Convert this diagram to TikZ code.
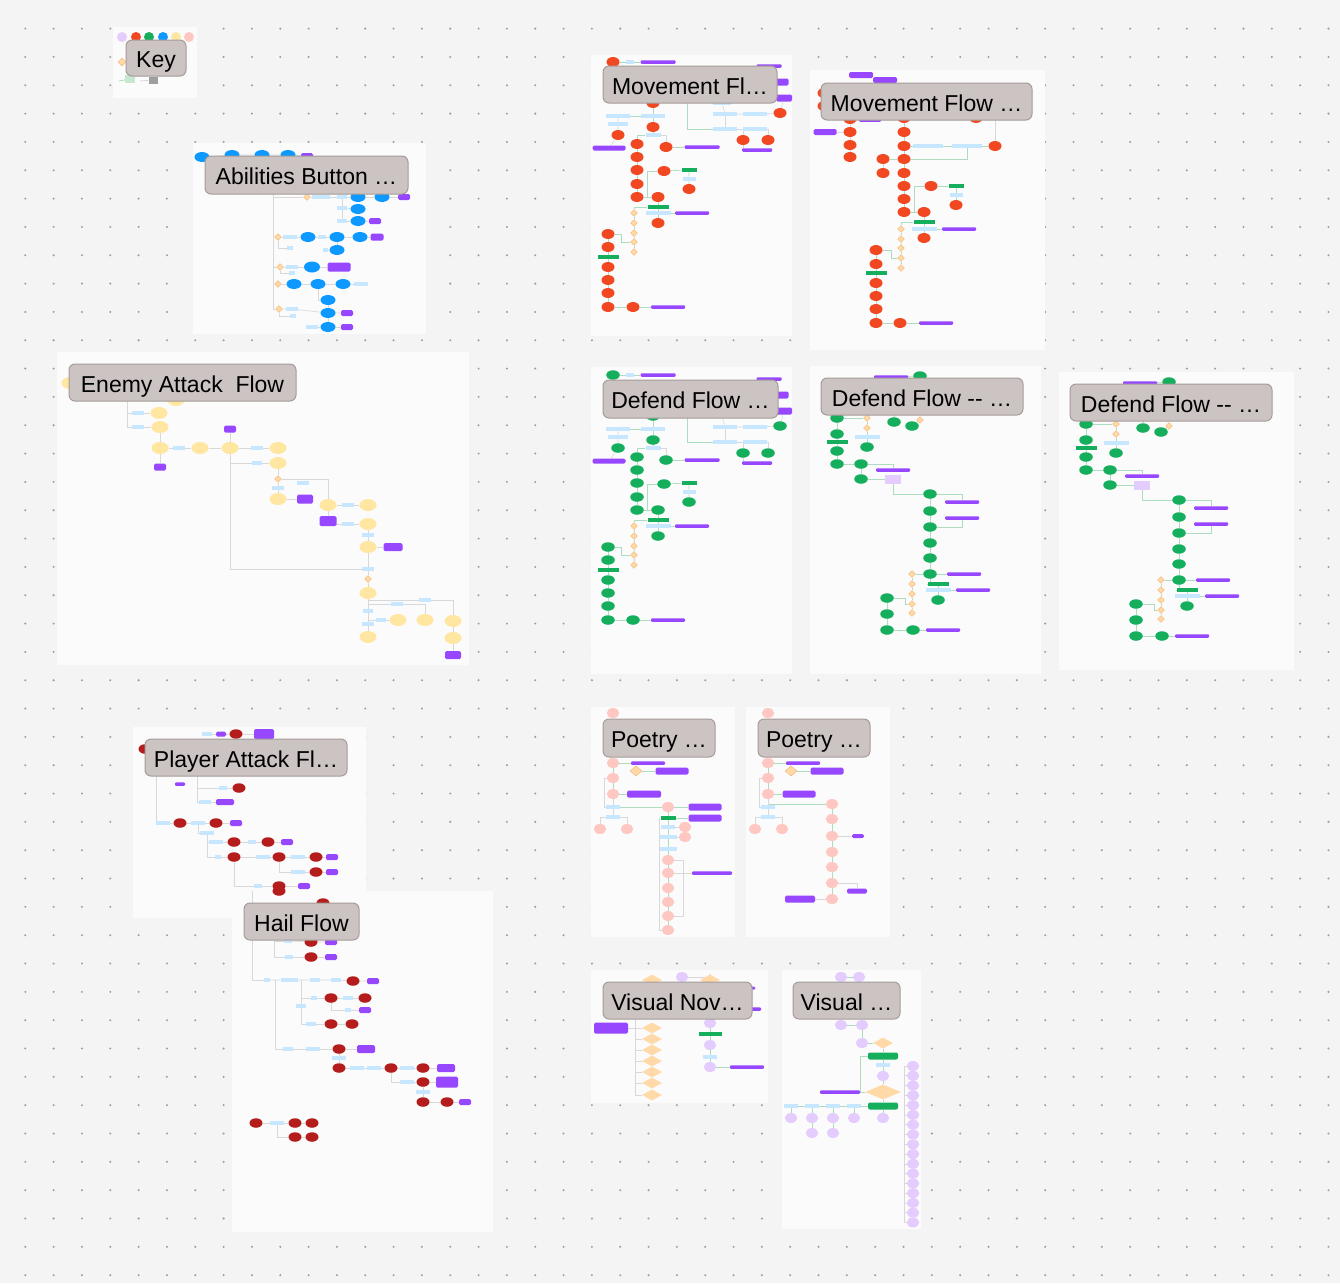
\documentclass[tikz,border=0pt]{standalone}
\usepackage{fontspec}
\newfontfamily\ttlfont{Liberation Sans}
\usetikzlibrary{shapes.geometric}
\definecolor{bg}{HTML}{F4F4F4}
\definecolor{dotc}{HTML}{A0A0A0}
\definecolor{framec}{HTML}{FBFBFB}
\definecolor{ttlfill}{HTML}{CCC4C2}
\definecolor{ttldraw}{HTML}{A59C9A}
\definecolor{mvred}{HTML}{F24822}
\definecolor{dfgreen}{HTML}{14AE5C}
\definecolor{abblue}{HTML}{0D99FF}
\definecolor{enyel}{HTML}{FFE7A1}
\definecolor{pared}{HTML}{B51D1D}
\definecolor{popink}{HTML}{FFC7C2}
\definecolor{vnlav}{HTML}{E4CCFF}
\definecolor{ppl}{HTML}{9747FF}
\definecolor{lblue}{HTML}{C7E6FF}
\definecolor{dmfill}{HTML}{FFD9A8}
\definecolor{dmdraw}{HTML}{F4B06A}
\definecolor{lngrey}{HTML}{D8D8D8}
\definecolor{lngreen}{HTML}{ADDDBF}

\pgfdeclarelayer{panels}
\pgfdeclarelayer{background}
\pgfsetlayers{panels,background,main}

\tikzset{
  el/.style={ellipse, inner sep=0, minimum width=13, minimum height=10},
  mv/.style={el, fill=mvred},
  df/.style={el, fill=dfgreen, minimum width=13.5, minimum height=9.5},
  ab/.style={el, fill=abblue, minimum width=15, minimum height=10},
  en/.style={el, fill=enyel, minimum width=17, minimum height=12},
  pa/.style={el, fill=pared, minimum width=13, minimum height=9.5},
  po/.style={el, fill=popink, minimum width=12.5, minimum height=10},
  vn/.style={el, fill=vnlav, minimum width=12.5, minimum height=10},
  lb/.style={rectangle, fill=lblue, inner sep=0, minimum height=4.5, minimum width=#1},
  lb/.default=14,
  ppbar/.style={rectangle, rounded corners=1, fill=ppl, inner sep=0, minimum height=3.5, minimum width=#1},
  ppbox/.style 2 args={rectangle, rounded corners=1.5, fill=ppl, inner sep=0, minimum width=#1, minimum height=#2},
  gb/.style={rectangle, fill=dfgreen, inner sep=0, minimum height=3.5, minimum width=#1},
  gbox/.style={rectangle, rounded corners=2, fill=dfgreen, inner sep=0, minimum height=7, minimum width=#1},
  dm/.style={diamond, fill=dmfill, draw=dmdraw, line width=0.4, inner sep=0, minimum width=7, minimum height=7},
  dmv/.style={diamond, fill=dmfill, inner sep=0, minimum width=20, minimum height=11},
  ln/.style={draw=lngrey, line width=0.6},
  lg/.style={draw=lngreen, line width=0.7},
  panel/.style={fill=framec},
  ttl/.style={rectangle, rounded corners=6, fill=ttlfill, draw=ttldraw, line width=1,
    inner sep=0, text height=19.5, text depth=0,
    font=\ttlfont\fontsize{23}{27}\selectfont, text=black}
}

% white board panel on the lowest layer
\newcommand\boardpanel[4]{%
  \begin{pgfonlayer}{panels}\fill[panel] (#1,#2) rectangle (#3,#4);\end{pgfonlayer}}

% Movement / first defend layout (absolute positions of the first panel)
\newcommand\flowMove[1]{%
  \node[#1] (n1) at (613,62) {};
  \node[lb=8] (n2) at (630,62) {};
  \node[ppbar=35] (n3) at (658,62) {};
  \node[ppbar=25] (n4) at (769,66) {};
  \node[ppbox={15}{7}] (n5) at (781,82) {};
  \node[ppbox={16}{7}] (n6) at (784,98) {};
  \node[#1] (n7) at (653,103) {};
  \node[lb=18] (n8) at (722,103) {};
  \node[lb=24] (n9) at (725,114) {};
  \node[lb=24] (n10) at (755,114) {};
  \node[#1] (n11) at (780,113) {};
  \node[lb=24] (n12) at (618,116) {};
  \node[lb=24] (n13) at (653,116) {};
  \node[lb=20] (n14) at (618,124) {};
  \node[#1] (n15) at (653,127) {};
  \node[lb=24] (n16) at (725,129) {};
  \node[lb=24] (n17) at (755,129) {};
  \node[#1] (n18) at (618,135) {};
  \node[lb=15] (n19) at (653,135) {};
  \node[#1] (n20) at (743,140) {};
  \node[#1] (n21) at (768,140) {};
  \node[ppbox={33}{5}] (n22) at (609,148) {};
  \node[#1] (n23) at (637,144) {};
  \node[#1] (n24) at (666,147) {};
  \node[ppbar=35] (n25) at (702,147) {};
  \node[ppbar=30] (n26) at (757,150) {};
  \node[#1] (n27) at (637,157) {};
  \node[#1] (n28) at (637,170) {};
  \node[#1] (n29) at (664,171) {};
  \node[gb=15] (n30) at (689,170) {};
  \node[lb=13] (n31) at (689,179) {};
  \node[#1] (n32) at (689,189) {};
  \node[#1] (n33) at (637,184) {};
  \node[#1] (n34) at (637,197) {};
  \node[#1] (n35) at (658,197) {};
  \node[gb=21] (n36) at (658,207) {};
  \node[lb=25] (n37) at (658,213) {};
  \node[ppbar=34] (n38) at (692,213) {};
  \node[#1] (n39) at (658,223) {};
  \node[dm] (n40) at (634,213) {};
  \node[dm] (n41) at (634,223) {};
  \node[dm] (n42) at (634,233) {};
  \node[dm] (n43) at (634,242) {};
  \node[dm] (n44) at (634,252) {};
  \node[#1] (n45) at (608,234) {};
  \node[#1] (n46) at (608,247) {};
  \node[gb=21] (n47) at (608,257) {};
  \node[#1] (n48) at (608,267) {};
  \node[#1] (n49) at (608,280) {};
  \node[#1] (n50) at (608,293) {};
  \node[#1] (n51) at (608,307) {};
  \node[#1] (n52) at (633,307) {};
  \node[ppbar=34] (n53) at (668,307) {};
  \begin{pgfonlayer}{background}
  \draw[lg] (n1)--(n2)--(n3);
  \draw[lg] (n7)--(n13)--(n15)--(n19);
  \draw[lg] (n13)--(n12);
  \draw[ln] (n12)--(n14)--(n18)--(n22);
  \draw[lg] (n19)-|(n23);
  \draw[ln] (n19)-|(n24);
  \draw[lg] (n24)--(n25);
  \draw[lg] (n23)--(n27)--(n28)--(n33)--(n34)--(n35);
  \draw[lg] (n34) -- ++(10,0) |- (n29);
  \draw[lg] (n29)--(n30)--(n31)--(n32);
  \draw[lg] (n35)--(n36)--(n37)--(n39);
  \draw[lg] (n37)--(n38);
  \draw[lg] (n40)--(n41)--(n42)--(n43)--(n44);
  \draw[lg] (n36) -| (n40);
  \draw[lg] (n45) -- ++(13,0) |- (n43);
  \draw[lg] (n45)--(n46)--(n47)--(n48)--(n49)--(n50)--(n51)--(n52)--(n53);
  \draw[ln] (n8)--(n9)--(n10)--(n11);
  \draw[ln] (n9)--(n16)--(n17);
  \draw[ln] (n17)-|(n20);
  \draw[ln] (n17)-|(n21);
  \draw[ln] (n20)|-(n26);
  \draw[ln] (n6)--(n11);
  \draw[lg] (n16) -- ++(-38,0) -- ++(0,-26);
  \end{pgfonlayer}
}

% Later defend layout (absolute positions of the second defend panel)
\newcommand\flowDefend[1]{%
  \node[ppbar=34] (k1) at (891,377) {};
  \node[#1] (k2) at (920,376) {};
  \node[#1] (k3) at (837,418) {};
  \node[dm] (k4) at (867,418) {};
  \node[dm] (k5) at (867,428) {};
  \node[#1] (k6) at (894,422) {};
  \node[#1] (k7) at (912,426) {};
  \node[dm] (k8) at (920,420) {};
  \node[#1] (k9) at (837,434) {};
  \node[gb=21] (k10) at (837,442) {};
  \node[lb=25] (k11) at (867,437) {};
  \node[#1] (k12) at (867,447) {};
  \node[#1] (k13) at (837,451) {};
  \node[#1] (k14) at (837,464) {};
  \node[#1] (k15) at (861,464) {};
  \node[ppbar=34] (k16) at (893,470) {};
  \node[#1] (k17) at (861,479) {};
  \node[rectangle, fill=vnlav, inner sep=0, minimum width=16, minimum height=9] (k18) at (893,479) {};
  \node[#1] (k19) at (930,494) {};
  \node[#1] (k20) at (930,511) {};
  \node[#1] (k21) at (930,527) {};
  \node[#1] (k22) at (930,543) {};
  \node[#1] (k23) at (930,558) {};
  \node[#1] (k24) at (930,574) {};
  \node[ppbar=34] (k25) at (962,502) {};
  \node[ppbar=34] (k26) at (962,518) {};
  \node[ppbar=34] (k27) at (964,574) {};
  \node[gb=21] (k28) at (938,584) {};
  \node[lb=25] (k29) at (938,590) {};
  \node[ppbar=34] (k30) at (973,590) {};
  \node[#1] (k31) at (938,600) {};
  \node[dm] (k32) at (912,574) {};
  \node[dm] (k33) at (912,584) {};
  \node[dm] (k34) at (912,594) {};
  \node[dm] (k35) at (912,604) {};
  \node[dm] (k36) at (912,613) {};
  \node[#1] (k37) at (887,598) {};
  \node[#1] (k38) at (887,614) {};
  \node[#1] (k39) at (887,630) {};
  \node[#1] (k40) at (913,630) {};
  \node[ppbar=34] (k41) at (943,630) {};
  \begin{pgfonlayer}{background}
  \draw[lg] (k1)--(k2);
  \draw[lg] (k3)--(k9)--(k10)--(k13)--(k14)--(k15);
  \draw[lg] (k3)--(k4)--(k5)--(k11)--(k12);
  \draw[lg] (k7)--(k8);
  \draw[lg] (k6) -- ++(0,-8);
  \draw[lg] (k15)-|(k16);
  \draw[lg] (k15)--(k17)--(k18);
  \draw[lg] (k18)|-(k19);
  \draw[lg] (k19)--(k20)--(k21)--(k22)--(k23)--(k24)--(k27);
  \draw[lg] (k19)-|(k25);
  \draw[lg] (k21)-|(k26);
  \draw[lg] (k24)|-(k28);
  \draw[lg] (k28)--(k29)--(k31);
  \draw[lg] (k29)--(k30);
  \draw[lg] (k24)--(k32)--(k33)--(k34)--(k35)--(k36);
  \draw[lg] (k37) -- ++(18,0) |- (k35);
  \draw[lg] (k37)--(k38)--(k39)--(k40)--(k41);
  \end{pgfonlayer}
}

\begin{document}
\begin{tikzpicture}[x=1pt,y=-1pt]
\useasboundingbox (0,0) rectangle (1340,1283);
\begin{pgfonlayer}{panels}
\fill[bg] (0,0) rectangle (1340,1283);
% dot grid of the board
\foreach \i in {0,...,46}
  \foreach \j in {1,...,45}
    \fill[dotc] ({25.3+28.33*\i},{0.3+28.33*\j}) circle (1.15);
\end{pgfonlayer}

% ---------------- Key ----------------
\boardpanel{113}{27}{197}{98}
\node[circle, fill=vnlav, inner sep=0, minimum size=10] (kc1) at (122,37) {};
\node[circle, fill=mvred, inner sep=0, minimum size=10] (kc2) at (136,37) {};
\node[circle, fill=dfgreen, inner sep=0, minimum size=10] (kc3) at (149,37) {};
\node[circle, fill=abblue, inner sep=0, minimum size=10] (kc4) at (163,37) {};
\node[circle, fill=enyel, inner sep=0, minimum size=10] (kc5) at (176,37) {};
\node[circle, fill=popink, inner sep=0, minimum size=10] (kc6) at (189,37) {};
\node[dm, minimum width=8, minimum height=8] (kd) at (122,62) {};
\coordinate (ka0) at (119,81);
\node[rectangle, fill=lngreen!70, inner sep=0, minimum width=10, minimum height=8] (kg) at (130,79) {};
\coordinate (kb0) at (140,81);
\node[rectangle, fill=black!38, inner sep=0, minimum width=9, minimum height=7] (kr) at (153,80) {};
\draw[lg, line width=0.8] (ka0) -- (kg);
\draw[ln, line width=0.8] (kb0) -- (kr);

% ---------------- Abilities Button ----------------
\boardpanel{193}{143}{426}{334}
\node[ab] (a1) at (202,157) {};
\node[ab] (a2) at (232,155) {};
\node[ab] (a3) at (262,155) {};
\node[ab] (a4) at (288,155) {};
\node[ppbox={12}{6}] (a5) at (307,156) {};
\node[dm] (a6) at (307,197) {};
\node[lb=18] (a7) at (321,197) {};
\node[lb=10] (a8) at (342,197) {};
\node[ab] (a9) at (358,197) {};
\node[ab] (a10) at (382,197) {};
\node[ppbox={12}{6}] (a11) at (404,197) {};
\node[lb=10] (a12) at (342,208) {};
\node[ab] (a13) at (358,209) {};
\node[lb=10] (a14) at (342,221) {};
\node[ab] (a15) at (358,221) {};
\node[ppbox={12}{6}] (a16) at (375,221) {};
\node[dm] (a17) at (278,237) {};
\node[lb=14] (a18) at (290,237) {};
\node[ab] (a19) at (308,237) {};
\node[lb=8] (a20) at (322,237) {};
\node[ab] (a21) at (337,237) {};
\node[ab] (a22) at (360,237) {};
\node[ppbox={13}{7}] (a23) at (377,237) {};
\node[lb=6] (a24) at (290,248) {};
\node[lb=5] (a25) at (325,250) {};
\node[ab] (a26) at (337,250) {};
\node[dm] (a27) at (280,267) {};
\node[lb=12] (a28) at (292,267) {};
\node[ab, minimum width=16, minimum height=11] (a29) at (312,267) {};
\node[ppbox={23}{9}] (a30) at (339,267) {};
\node[lb=6] (a31) at (292,273) {};
\node[dm] (a32) at (278,284) {};
\node[ab] (a33) at (294,284) {};
\node[ab] (a34) at (318,284) {};
\node[ab] (a35) at (343,284) {};
\node[lb=14] (a36) at (361,284) {};
\node[ab] (a37) at (328,300) {};
\node[dm] (a38) at (279,309) {};
\node[lb=12] (a39) at (292,309) {};
\node[ab] (a40) at (328,313) {};
\node[ppbox={12}{6}] (a41) at (347,313) {};
\node[lb=6] (a42) at (293,316) {};
\node[lb=12] (a43) at (312,327) {};
\node[ab] (a44) at (328,327) {};
\node[ppbox={12}{6}] (a45) at (347,327) {};
\coordinate (atop) at (273,188);
\begin{pgfonlayer}{background}
\draw[ln] (a6)--(a7)--(a8)--(a9)--(a10)--(a11);
\draw[ln] (a8)--(a12)--(a14);
\draw[ln] (a12)--(a13);
\draw[ln] (a14)--(a15)--(a16);
\draw[ln] (a17)--(a18)--(a19)--(a20)--(a21)--(a22)--(a23);
\draw[ln] (a21)--(a26);
\draw[ln] (a25)--(a26);
\draw[ln] (a17)|-(a24);
\draw[ln] (a27)--(a28)--(a29)--(a30);
\draw[ln] (a27)|-(a31);
\draw[ln] (a32)--(a33)--(a34)--(a35)--(a36);
\draw[ln] (a34)|-(a37);
\draw[ln] (a37)--(a40)--(a44);
\draw[ln] (a38)--(a39)--(a40)--(a41);
\draw[ln] (a38)|-(a42);
\draw[ln] (a43)--(a44)--(a45);
\draw[ln] (atop)|-(a6);
\draw[ln] (atop)|-(a17);
\draw[ln] (atop)|-(a27);
\draw[ln] (atop)|-(a32);
\draw[ln] (atop)|-(a38);
\draw[ln] (a1)--(a2)--(a3)--(a4)--(a5);
\end{pgfonlayer}

% ---------------- Enemy Attack Flow ----------------
\boardpanel{57}{352}{469}{665}
\coordinate (etop) at (127,398);
\node[en] (e1) at (70,383) {};
\node[en] (e2) at (176,400) {};
\node[lb=12] (e3) at (138,413) {};
\node[en] (e4) at (159,413) {};
\node[lb=12] (e5) at (138,427) {};
\node[en] (e6) at (160,427) {};
\node[ppbox={12}{7}] (e7) at (230,429) {};
\node[en] (e8) at (160,448) {};
\node[lb=12] (e9) at (179,448) {};
\node[en] (e10) at (200,448) {};
\node[en] (e11) at (230,448) {};
\node[lb=12] (e12) at (257,448) {};
\node[en] (e13) at (278,448) {};
\node[ppbox={12}{7}] (e14) at (160,467) {};
\node[lb=10] (e15) at (257,463) {};
\node[en] (e16) at (278,463) {};
\node[dm] (e17) at (278,479) {};
\node[lb=12] (e18) at (303,483) {};
\node[lb=12] (e19) at (278,488) {};
\node[en] (e20) at (278,499) {};
\node[ppbox={16}{9}] (e21) at (305,499) {};
\node[en] (e22) at (328,505) {};
\node[lb=12] (e23) at (348,505) {};
\node[en] (e24) at (368,505) {};
\node[ppbox={17}{10}] (e25) at (328,521) {};
\node[lb=12] (e26) at (348,524) {};
\node[en] (e27) at (368,524) {};
\node[lb=12] (e28) at (368,535) {};
\node[en] (e29) at (368,547) {};
\node[ppbox={19}{8}] (e30) at (393,547) {};
\node[lb=12] (e31) at (368,569) {};
\node[dm] (e32) at (368,579) {};
\node[en] (e33) at (368,593) {};
\node[lb=12] (e34) at (425,600) {};
\node[lb=12] (e35) at (397,604) {};
\node[lb=10] (e36) at (368,611) {};
\node[lb=10] (e37) at (381,620) {};
\node[en] (e38) at (398,620) {};
\node[en] (e39) at (425,620) {};
\node[en] (e40) at (453,621) {};
\node[lb=12] (e41) at (368,624) {};
\node[en] (e42) at (368,637) {};
\node[en] (e43) at (453,638) {};
\node[ppbox={16}{8}] (e44) at (453,655) {};
\begin{pgfonlayer}{background}
\draw[ln] (etop)|-(e3);
\draw[ln] (etop)|-(e5);
\draw[ln] (e3)--(e4);
\draw[ln] (e5)--(e6)--(e8)--(e9)--(e10)--(e11)--(e12)--(e13);
\draw[ln] (e8)--(e14);
\draw[ln] (e7)--(e11);
\draw[ln] (e15)-|(e11);
\draw[ln] (e15)--(e16)--(e17)--(e19)--(e20)--(e21);
\draw[ln] (e17)-|(e22);
\draw[ln] (e22)--(e23)--(e24);
\draw[ln] (e22)--(e25);
\draw[ln] (e26)-|(e22);
\draw[ln] (e26)--(e27)--(e28)--(e29)--(e30);
\draw[ln] (e29)--(e31)--(e32)--(e33)--(e36)--(e41)--(e42);
\draw[ln] (e11)|-(e31);
\draw[ln] (e33)|-(e34);
\draw[ln] (e34)-|(e40);
\draw[ln] (e33)|-(e35);
\draw[ln] (e35)-|(e39);
\draw[ln] (e36)|-(e37);
\draw[ln] (e37)--(e38);
\draw[ln] (e40)--(e43)--(e44);
\end{pgfonlayer}

% ---------------- Movement flow panels ----------------
\boardpanel{591}{55}{792}{336}
\begin{scope}[name prefix=m1-]
  \flowMove{mv}
\end{scope}

\boardpanel{810}{70}{1045}{350}
\node[ppbox={24}{6}] (b1) at (861,75) {};
\node[ppbox={24}{6}] (b2) at (885,80) {};
\node[mv] (b3) at (824,93) {};
\node[mv] (b4) at (824,106) {};
\node[mv] (b5) at (850,119) {};
\node[ppbar=22] (b6) at (870,120) {};
\node[mv] (b7) at (904,118) {};
\node[mv] (b8) at (976,118) {};
\node[ppbox={23}{6}] (b9) at (825,132) {};
\node[mv] (b10) at (850,132) {};
\node[mv] (b11) at (850,145) {};
\node[mv] (b12) at (850,157) {};
\node[mv] (b13) at (904,132) {};
\node[mv] (b14) at (904,146) {};
\node[lb=30] (b15) at (928,146) {};
\node[lb=30] (b16) at (967,146) {};
\node[mv] (b17) at (995,146) {};
\node[mv] (b18) at (883,159) {};
\node[mv] (b19) at (904,159) {};
\node[mv] (b20) at (883,173) {};
\node[mv] (b21) at (904,173) {};
\node[mv] (b22) at (904,186) {};
\node[mv] (b23) at (904,199) {};
\node[mv] (b24) at (904,212) {};
\node[mv] (b25) at (931,186) {};
\node[gb=15] (b26) at (956,186) {};
\node[lb=13] (b27) at (956,195) {};
\node[mv] (b28) at (956,205) {};
\node[mv] (b29) at (924,212) {};
\node[gb=21] (b30) at (924,222) {};
\node[lb=25] (b31) at (924,229) {};
\node[ppbar=34] (b32) at (959,229) {};
\node[mv] (b33) at (924,238) {};
\node[dm] (b34) at (901,229) {};
\node[dm] (b35) at (901,239) {};
\node[dm] (b36) at (901,248) {};
\node[dm] (b37) at (901,258) {};
\node[dm] (b38) at (901,268) {};
\node[mv] (b39) at (876,250) {};
\node[mv] (b40) at (876,264) {};
\node[gb=21] (b41) at (876,273) {};
\node[mv] (b42) at (876,283) {};
\node[mv] (b43) at (876,296) {};
\node[mv] (b44) at (876,309) {};
\node[mv] (b45) at (876,323) {};
\node[mv] (b46) at (900,323) {};
\node[ppbar=34] (b47) at (936,323) {};
\begin{pgfonlayer}{background}
\draw[ln] (b1)--(b2);
\draw[ln] (b3)--(b4);
\draw[ln] (b5)--(b10)--(b11)--(b12);
\draw[ln] (b9)--(b10);
\draw[lg] (b7)--(b13)--(b14)--(b19)--(b21)--(b22)--(b23)--(b24)--(b29);
\draw[lg] (b14)--(b15)--(b16)--(b17);
\draw[ln] (b8)-|(b17);
\draw[lg] (b19)--(b18);
\draw[lg] (b16)|-(b19);
\draw[ln] (b18)--(b20);
\draw[lg] (b24) -- ++(10,0) |- (b25);
\draw[lg] (b25)--(b26)--(b27)--(b28);
\draw[lg] (b29)--(b30)--(b31)--(b33);
\draw[lg] (b31)--(b32);
\draw[lg] (b34)--(b35)--(b36)--(b37)--(b38);
\draw[lg] (b30)-|(b34);
\draw[lg] (b39) -- ++(15,0) |- (b37);
\draw[lg] (b39)--(b40)--(b41)--(b42)--(b43)--(b44)--(b45)--(b46)--(b47);
\end{pgfonlayer}

% ---------------- Defend flow panels ----------------
\boardpanel{591}{367}{792}{674}
\begin{scope}[name prefix=d1-, shift={(0,313)}]
  \flowMove{df}
\end{scope}

\boardpanel{810}{366}{1041}{674}
\begin{scope}[name prefix=d2-]
  \flowDefend{df}
\end{scope}

\boardpanel{1059}{372}{1294}{670}
\begin{scope}[name prefix=d3-, shift={(249,6)}]
  \flowDefend{df}
\end{scope}

% ---------------- Player Attack Flow ----------------
\boardpanel{133}{727}{366}{918}
\node[lb=10] (p1) at (207,734) {};
\node[ppbox={10}{5}] (p2) at (221,734) {};
\node[pa] (p3) at (236,734) {};
\node[ppbox={20}{10}] (p4) at (264,734) {};
\node[pa] (p5) at (145,749) {};
\node[ppbar=10] (p6) at (180,784) {};
\node[lb=8] (p7) at (223,788) {};
\node[pa] (p8) at (239,788) {};
\node[lb=12] (p9) at (205,802) {};
\node[ppbox={18}{6}] (p10) at (225,802) {};
\node[lb=14] (p11) at (163,823) {};
\node[pa] (p12) at (180,823) {};
\node[lb=14] (p13) at (198,823) {};
\node[pa] (p14) at (216,823) {};
\node[ppbox={12}{6}] (p15) at (236,823) {};
\node[lb=14] (p16) at (207,833) {};
\node[lb=14] (p17) at (216,842) {};
\node[pa] (p18) at (234,842) {};
\node[lb=8] (p19) at (252,842) {};
\node[pa] (p20) at (268,842) {};
\node[ppbox={12}{6}] (p21) at (287,842) {};
\node[lb=6] (p22) at (218,857) {};
\node[pa] (p23) at (234,857) {};
\node[lb=14] (p24) at (263,857) {};
\node[pa] (p25) at (279,857) {};
\node[lb=14] (p26) at (298,857) {};
\node[pa] (p27) at (316,857) {};
\node[ppbox={12}{6}] (p28) at (332,857) {};
\node[lb=14] (p29) at (298,872) {};
\node[pa] (p30) at (316,872) {};
\node[ppbox={12}{6}] (p31) at (332,872) {};
\node[lb=8] (p32) at (258,886) {};
\node[pa] (p33) at (279,886) {};
\node[ppbox={12}{6}] (p34) at (304,886) {};
\coordinate (pv) at (156,752);
\coordinate (pv2) at (197,745);
\begin{pgfonlayer}{background}
\draw[ln] (p1)--(p2)--(p3)--(p4);
\draw[ln] (pv)|-(p11);
\draw[ln] (p5)--(pv);
\draw[ln] (pv2)|-(p9);
\draw[ln] (pv2)|-(p7);
\draw[ln] (p7)--(p8);
\draw[ln] (p9)--(p10);
\draw[ln] (p11)--(p12)--(p13)--(p14)--(p15);
\draw[ln] (p13)|-(p16);
\draw[ln] (p16)|-(p17);
\draw[ln] (p16)|-(p22);
\draw[ln] (p17)--(p18)--(p19)--(p20)--(p21);
\draw[ln] (p22)--(p23)--(p24)--(p25)--(p26)--(p27)--(p28);
\draw[ln] (p25)|-(p29);
\draw[ln] (p29)--(p30)--(p31);
\draw[ln] (p23)|-(p32);
\draw[ln] (p32)--(p33)--(p34);
\end{pgfonlayer}

% ---------------- Hail Flow ----------------
\boardpanel{232}{891}{493}{1232}
\node[pa] (h1) at (279,891) {};
\node[pa] (h2) at (323,903) {};
\node[lb=8] (h3) at (288,941) {};
\node[pa] (h4) at (311,942) {};
\node[ppbox={12}{6}] (h5) at (331,942) {};
\node[lb=8] (h6) at (289,957) {};
\node[pa] (h7) at (311,957) {};
\node[ppbox={12}{6}] (h8) at (331,957) {};
\node[lb=6] (h9) at (267,980) {};
\node[lb=17] (h10) at (289,980) {};
\node[lb=10] (h11) at (315,980) {};
\node[lb=10] (h12) at (336,980) {};
\node[pa] (h13) at (353,981) {};
\node[ppbox={12}{6}] (h14) at (373,981) {};
\node[lb=6] (h15) at (314,998) {};
\node[pa] (h16) at (331,998) {};
\node[lb=10] (h17) at (348,998) {};
\node[pa] (h18) at (365,998) {};
\node[lb=10] (h19) at (301,1006) {};
\node[lb=6] (h20) at (348,1010) {};
\node[ppbox={12}{6}] (h21) at (365,1010) {};
\node[lb=10] (h22) at (311,1024) {};
\node[pa] (h23) at (331,1024) {};
\node[pa] (h24) at (352,1024) {};
\node[lb=10] (h25) at (288,1049) {};
\node[lb=14] (h26) at (313,1049) {};
\node[pa] (h27) at (339,1049) {};
\node[ppbox={18}{8}] (h28) at (366,1049) {};
\node[lb=14] (h29) at (339,1058) {};
\node[pa] (h30) at (339,1068) {};
\node[lb=14] (h31) at (357,1068) {};
\node[lb=14] (h32) at (374,1068) {};
\node[pa] (h33) at (391,1068) {};
\node[lb=14] (h34) at (407,1068) {};
\node[pa] (h35) at (423,1068) {};
\node[ppbox={18}{8}] (h36) at (446,1068) {};
\node[lb=14] (h37) at (407,1082) {};
\node[pa] (h38) at (423,1082) {};
\node[ppbox={22}{11}] (h39) at (447,1082) {};
\node[lb=14] (h40) at (423,1092) {};
\node[pa] (h41) at (423,1102) {};
\node[pa] (h42) at (447,1102) {};
\node[ppbox={12}{6}] (h43) at (465,1102) {};
\node[pa] (h44) at (256,1123) {};
\node[lb=14] (h45) at (277,1123) {};
\node[pa] (h46) at (295,1123) {};
\node[pa] (h47) at (312,1123) {};
\node[pa] (h48) at (295,1137) {};
\node[pa] (h49) at (312,1137) {};
\coordinate (hv) at (252,891);
\coordinate (hl) at (274,925);
\coordinate (hj) at (275,980);
\coordinate (hk) at (301,980);
\begin{pgfonlayer}{background}
\draw[ln] (hv)|-(h9);
\draw[ln] (h9)--(h10)--(h11)--(h12)--(h13)--(h14);
\draw[ln] (hl)|-(h3);
\draw[ln] (hl)|-(h6);
\draw[ln] (h3)--(h4)--(h5);
\draw[ln] (h6)--(h7)--(h8);
\draw[ln] (hj)|-(h25);
\draw[ln] (hk)|-(h15);
\draw[ln] (hk)|-(h22);
\draw[ln] (h15)--(h16)--(h17)--(h18);
\draw[ln] (h16)|-(h20);
\draw[ln] (h20)--(h21);
\draw[ln] (h22)--(h23)--(h24);
\draw[ln] (h25)--(h26)--(h27)--(h28);
\draw[ln] (h27)--(h29)--(h30)--(h31)--(h32)--(h33)--(h34)--(h35)--(h36);
\draw[ln] (h33)|-(h37);
\draw[ln] (h37)--(h38)--(h39);
\draw[ln] (h38)--(h40)--(h41)--(h42)--(h43);
\draw[ln] (h44)--(h45)--(h46)--(h47);
\draw[ln] (h45)|-(h48);
\draw[ln] (h48)--(h49);
\end{pgfonlayer}

% ---------------- Poetry panels ----------------
\boardpanel{591}{707}{735}{937}
\node[po] (q1) at (613,713) {};
\node[po] (q2) at (613,763) {};
\node[ppbar=34] (q3) at (648,763) {};
\node[dm, minimum width=12, minimum height=10] (q4) at (636,771) {};
\node[ppbox={33}{7}] (q5) at (672,771) {};
\node[po] (q6) at (613,778) {};
\node[po] (q7) at (613,794) {};
\node[ppbox={34}{7}] (q8) at (644,794) {};
\node[lb=14] (q9) at (613,807) {};
\node[lb=14] (q10) at (613,817) {};
\node[po] (q11) at (600,829) {};
\node[po] (q12) at (627,829) {};
\node[po] (q13) at (668,807) {};
\node[ppbox={33}{7}] (q14) at (705,807) {};
\node[gb=15] (q15) at (668,818) {};
\node[ppbox={33}{7}] (q16) at (705,818) {};
\node[lb=14] (q17) at (668,827) {};
\node[po] (q18) at (685,827) {};
\node[lb=17] (q19) at (668,837) {};
\node[po] (q20) at (685,837) {};
\node[lb=17] (q21) at (668,849) {};
\node[po] (q22) at (668,860) {};
\node[po] (q23) at (668,873) {};
\node[po] (q24) at (668,888) {};
\node[po] (q25) at (668,902) {};
\node[po] (q26) at (668,916) {};
\node[po] (q27) at (668,930) {};
\node[ppbar=40] (q28) at (712,873) {};
\begin{pgfonlayer}{background}
\draw[lg] (q2)--(q3);
\draw[lg] (q2)--(q6)--(q7)--(q8);
\draw[lg] (q4)--(q5);
\draw[lg] (q7)|-(q13);
\draw[ln] (q7)--(q9)--(q10);
\draw[ln] (q10)-|(q11);
\draw[ln] (q10)-|(q12);
\draw[ln] (q6) -- ++(-9,0) |- (q9);
\draw[lg] (q13)--(q14);
\draw[lg] (q13)--(q15)--(q17)--(q19)--(q21)--(q22)--(q23)--(q24)--(q25)--(q26)--(q27);
\draw[lg] (q15)--(q16);
\draw[ln] (q17)--(q18);
\draw[ln] (q19)--(q20);
\draw[ln] (q23)--(q28);
\draw[ln] (q22) -- ++(15,0) |- (q26);
\draw[ln] (q15) -- ++(-9,0) |- (q27);
\end{pgfonlayer}

\boardpanel{746}{707}{890}{937}
\node[po] (r1) at (768,713) {};
\node[po] (r2) at (768,763) {};
\node[ppbar=34] (r3) at (803,763) {};
\node[dm, minimum width=12, minimum height=10] (r4) at (791,771) {};
\node[ppbox={33}{7}] (r5) at (827,771) {};
\node[po] (r6) at (768,778) {};
\node[po] (r7) at (768,794) {};
\node[ppbox={33}{7}] (r8) at (799,794) {};
\node[lb=14] (r9) at (768,807) {};
\node[lb=14] (r10) at (768,817) {};
\node[po] (r11) at (755,829) {};
\node[po] (r12) at (782,829) {};
\node[po] (r13) at (832,804) {};
\node[po] (r14) at (832,819) {};
\node[po] (r15) at (832,836) {};
\node[po] (r16) at (832,852) {};
\node[po] (r17) at (832,867) {};
\node[po] (r18) at (832,883) {};
\node[po] (r19) at (832,899) {};
\node[ppbox={12}{4}] (r20) at (858,836) {};
\node[ppbox={20}{5}] (r21) at (857,891) {};
\node[ppbox={30}{7}] (r22) at (800,899) {};
\begin{pgfonlayer}{background}
\draw[lg] (r2)--(r3);
\draw[lg] (r2)--(r6)--(r7)--(r8);
\draw[lg] (r4)--(r5);
\draw[lg] (r7)|-(r13);
\draw[ln] (r7)--(r9)--(r10);
\draw[ln] (r10)-|(r11);
\draw[ln] (r10)-|(r12);
\draw[ln] (r6) -- ++(-9,0) |- (r9);
\draw[lg] (r13)--(r14)--(r15)--(r16)--(r17)--(r18)--(r19);
\draw[ln] (r15)--(r20);
\draw[ln] (r18)-|(r21);
\draw[ln] (r19)--(r22);
\end{pgfonlayer}

% ---------------- Visual novel panels ----------------
\boardpanel{591}{970}{768}{1103}
\node[dmv] (v1) at (652,980) {};
\node[dmv] (v2) at (710,980) {};
\node[vn] (v3) at (682,977) {};
\node[dmv] (v4) at (652,1028) {};
\node[dmv] (v5) at (652,1039) {};
\node[dmv] (v6) at (652,1050) {};
\node[dmv] (v7) at (652,1061) {};
\node[dmv] (v8) at (652,1072) {};
\node[dmv] (v9) at (652,1083) {};
\node[dmv] (v10) at (652,1095) {};
\node[ppbox={34}{11}] (v11) at (611,1028) {};
\node[ppbox={7}{3}] (v12) at (752,988) {};
\node[ppbar=12] (v13) at (755,1009) {};
\node[vn] (v14) at (710,1023) {};
\node[gb=23] (v15) at (710,1034) {};
\node[vn] (v16) at (710,1045) {};
\node[lb=14] (v17) at (710,1057) {};
\node[vn] (v18) at (710,1067) {};
\node[ppbar=34] (v19) at (747,1067) {};
\coordinate (vv) at (635,1012);
\begin{pgfonlayer}{background}
\draw[ln] (v3)-|(v2);
\draw[ln] (v11)--(v4);
\foreach \d in {4,...,10} \draw[ln] (vv)|-(v\d);
\draw[lg] (v14)--(v15)--(v16)--(v17)--(v18)--(v19);
\end{pgfonlayer}

\boardpanel{782}{970}{921}{1229}
\node[vn] (w1) at (841,977) {};
\node[vn] (w2) at (859,977) {};
\node[vn] (w3) at (841,1025) {};
\node[vn] (w4) at (862,1025) {};
\node[vn] (w5) at (862,1043) {};
\node[dmv] (w6) at (883,1043) {};
\node[gbox=30] (w7) at (883,1056) {};
\node[lb=14] (w8) at (883,1065) {};
\node[vn] (w9) at (883,1076) {};
\node[dmv, minimum width=36, minimum height=15] (w10) at (883,1092) {};
\node[ppbar=40] (w11) at (840,1092) {};
\node[gbox=30] (w12) at (883,1106) {};
\node[vn] (w13) at (883,1118) {};
\node[lb=14] (w14) at (791,1106) {};
\node[lb=14] (w15) at (812,1106) {};
\node[lb=14] (w16) at (833,1106) {};
\node[lb=14] (w17) at (854,1106) {};
\node[vn] (w18) at (791,1118) {};
\node[vn] (w19) at (812,1118) {};
\node[vn] (w20) at (833,1118) {};
\node[vn] (w21) at (854,1118) {};
\node[vn] (w22) at (812,1133) {};
\node[vn] (w23) at (833,1133) {};
\foreach \k in {0,...,16}
  \node[vn] (wc\k) at (913,{1066+9.78*\k}) {};
\begin{pgfonlayer}{background}
\draw[lg] (w1)--(w2);
\draw[lg] (w3)--(w4)--(w5)--(w6)--(w7)--(w8)--(w9)--(w10)--(w12)--(w13);
\draw[lg] (w10)--(w11);
\draw[lg] (w7.west)-|(w11.east);
\draw[lg] (w12)--(w17)--(w16)--(w15)--(w14);
\draw[lg] (w14)--(w18);
\draw[lg] (w15)--(w19)--(w22);
\draw[lg] (w16)--(w20)--(w23);
\draw[lg] (w17)--(w21);
\draw[ln] (wc0) -- ++(-9,0) |- (wc16);
\foreach \k in {1,...,15} \draw[ln] (wc\k) -- ++(-9,0);
\end{pgfonlayer}

% ---------------- Panel titles ----------------
\node[ttl, minimum width=60, minimum height=36] (t1) at (156,58) {Key};
\node[ttl, minimum width=203, minimum height=38] (t2) at (306.5,175) {Abilities Button …};
\node[ttl, minimum width=227, minimum height=37] (t3) at (182.5,382.5) {Enemy Attack\ \ Flow};
\node[ttl, minimum width=174, minimum height=37] (t4) at (690,84.5) {Movement Fl…};
\node[ttl, minimum width=211, minimum height=37] (t5) at (926.5,101.5) {Movement Flow …};
\node[ttl, minimum width=175, minimum height=38] (t6) at (690.5,399) {Defend Flow …};
\node[ttl, minimum width=202, minimum height=37] (t7) at (922,396.5) {Defend Flow -{}- …};
\node[ttl, minimum width=202, minimum height=37] (t8) at (1171,402.5) {Defend Flow -{}- …};
\node[ttl, minimum width=202, minimum height=37] (t9) at (246,757.5) {Player Attack Fl…};
\node[ttl, minimum width=115, minimum height=37] (t10) at (301.5,921.5) {Hail Flow};
\node[ttl, minimum width=112, minimum height=38] (t11) at (659,738) {Poetry …};
\node[ttl, minimum width=112, minimum height=38] (t12) at (814,738) {Poetry …};
\node[ttl, minimum width=149, minimum height=37] (t13) at (677.5,1000.5) {Visual Nov…};
\node[ttl, minimum width=107, minimum height=37] (t14) at (846.5,1000.5) {Visual …};
\end{tikzpicture}
\end{document}
